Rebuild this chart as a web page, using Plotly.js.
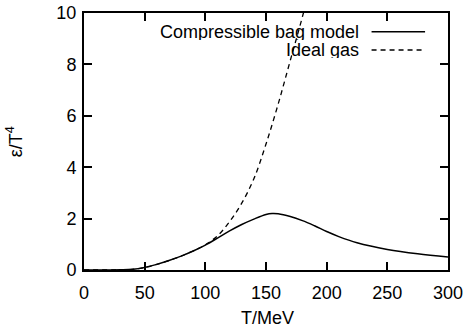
<!DOCTYPE html>
<html>
<head>
<meta charset="utf-8">
<script src="https://cdn.plot.ly/plotly-3.0.1.min.js"></script>
<style>html,body{margin:0;padding:0;background:#fff;}#chart{width:467px;height:332px;}</style>
</head>
<body>
<div id="chart"></div>
<script>
// Compressible bag model: epsilon/T^4 vs T (MeV)
const bagT   = [0, 20, 30, 40, 50, 60, 70, 80, 90, 100, 110, 120, 130, 140, 150, 155, 160, 170, 180, 190, 200, 210, 225, 250, 275, 300];
const bagEps = [0, 0, 0.005, 0.025, 0.1, 0.22, 0.37, 0.54, 0.74, 0.97, 1.24, 1.52, 1.77, 1.98, 2.16, 2.2, 2.19, 2.08, 1.92, 1.72, 1.5, 1.3, 1.06, 0.8, 0.63, 0.51];
// Ideal gas
const gasT   = [0, 20, 30, 40, 50, 60, 70, 80, 90, 100, 110, 120, 130, 140, 150, 160, 170, 180, 190];
const gasEps = [0, 0, 0.005, 0.025, 0.1, 0.22, 0.37, 0.54, 0.74, 0.98, 1.33, 1.88, 2.6, 3.55, 4.9, 6.45, 8.15, 9.85, 11.7];
const seriesNames = ["Compressible bag model", "Ideal gas"];
const xTicks = [0, 50, 100, 150, 200, 250, 300];
const yTicks = [0, 2, 4, 6, 8, 10];
const xTitle = "T/MeV";
const yTitle = "ε/T<sup>4</sup>";

const font = {family: "Liberation Sans, Arial, sans-serif", size: 18, color: "#000"};

const traces = [
  {x: bagT, y: bagEps, name: seriesNames[0], mode: "lines", line: {color: "#000", width: 1.5, shape: "spline"}},
  {x: gasT, y: gasEps, name: seriesNames[1], mode: "lines", line: {color: "#000", width: 1.3, dash: "5px,4px", shape: "spline"}}
];

const axisCommon = {
  showgrid: false, zeroline: false, showline: true, linecolor: "#000", linewidth: 2,
  mirror: "ticks", ticks: "inside", ticklen: 8, tickwidth: 2, tickcolor: "#000",
  tickfont: font, tickmode: "array"
};

const legX0 = 0.79, legX1 = 0.937, legTextX = 0.758;
const legY = [0.927, 0.856];

const annotations = seriesNames.map((n, i) => ({
  xref: "paper", yref: "paper", x: legTextX, y: legY[i], xanchor: "right", yanchor: "middle",
  text: n, showarrow: false, font: font, height: 16, borderpad: 0
}));
annotations.push({xref: "paper", yref: "paper", x: 0.503, y: -0.185, xanchor: "center", yanchor: "middle",
  text: xTitle, showarrow: false, font: font});
annotations.push({xref: "paper", yref: "paper", x: -0.19, y: 0.5, xanchor: "center", yanchor: "middle",
  text: yTitle, textangle: -90, showarrow: false, font: font});

const layout = {
  width: 467, height: 332,
  margin: {l: 84, r: 19, t: 13, b: 62},
  paper_bgcolor: "#fff", plot_bgcolor: "#fff",
  showlegend: false,
  font: font,
  xaxis: Object.assign({}, axisCommon, {range: [0, 300], tickvals: xTicks, ticktext: xTicks.map(String),
    ticklabelstandoff: 5}),
  yaxis: Object.assign({}, axisCommon, {range: [0, 10], tickvals: yTicks, ticktext: yTicks.map(String),
    ticklabelstandoff: 2}),
  annotations: annotations,
  shapes: [
    {type: "line", xref: "paper", yref: "paper", x0: legX0, x1: legX1, y0: legY[0], y1: legY[0], line: {color: "#000", width: 1.5}},
    {type: "line", xref: "paper", yref: "paper", x0: legX0, x1: legX1, y0: legY[1], y1: legY[1], line: {color: "#000", width: 1.3, dash: "5px,4px"}}
  ]
};

Plotly.newPlot("chart", traces, layout, {staticPlot: true, displayModeBar: false});
</script>
</body>
</html>
